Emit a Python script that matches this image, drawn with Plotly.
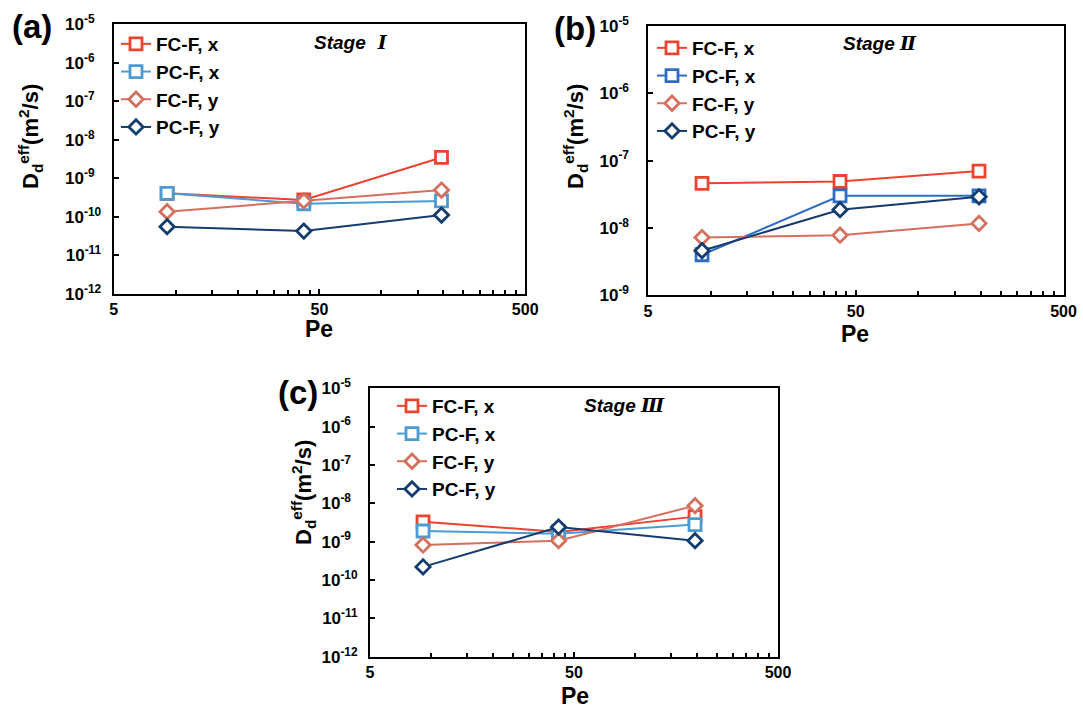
import math
import plotly.graph_objects as go

# Peclet numbers shared by all three stages
pe = [9.1, 42.0, 196.0]

# Stage I effective dispersion coefficients (m^2/s)
s1_fcf_x = [4.1e-10, 2.75e-10, 3.5e-9]
s1_pcf_x = [4.1e-10, 2.2e-10, 2.6e-10]
s1_fcf_y = [1.37e-10, 2.6e-10, 5.0e-10]
s1_pcf_y = [5.6e-11, 4.3e-11, 1.12e-10]

# Stage II
s2_fcf_x = [4.6e-8, 4.9e-8, 7.0e-8]
s2_pcf_x = [4.0e-9, 3.0e-8, 3.0e-8]
s2_fcf_y = [7.2e-9, 7.8e-9, 1.17e-8]
s2_pcf_y = [4.6e-9, 1.87e-8, 2.9e-8]

# Stage III
s3_fcf_x = [3.3e-9, 1.8e-9, 4.5e-9]
s3_pcf_x = [1.9e-9, 1.6e-9, 2.8e-9]
s3_fcf_y = [8.2e-10, 1.06e-9, 8.7e-9]
s3_pcf_y = [2.2e-10, 2.4e-9, 1.06e-9]

series_names = ["FC-F, x", "PC-F, x", "FC-F, y", "PC-F, y"]
x_tick_vals = [5, 50, 500]
x_tick_text = ["5", "50", "500"]
x_minor_vals = [10, 15, 20, 25, 30, 35, 40, 45, 100, 150, 200, 250, 300, 350, 400, 450]
y_exp_full = [-12, -11, -10, -9, -8, -7, -6, -5]
y_exp_short = [-9, -8, -7, -6, -5]

FONT = "Liberation Sans, Arial, sans-serif"
W, H = 1083, 711

RED = "#E8442F"
LIGHT_BLUE = "#4C9BD2"
MID_BLUE = "#2F6DC0"
SALMON = "#D4705D"
NAVY = "#143C6E"


def px_x(v):
    return v / W


def px_y(v):
    return 1 - v / H


def ytick_text(exps):
    out = []
    for e in exps:
        pad = "" if abs(e) >= 10 else "\u00a0\u00a0"
        out.append(f"<b>10<sup>{e}{pad}</sup></b>")
    return out


def stage_text(numeral):
    return ("<b><i>Stage\u00a0</i></b>"
            f"<span style='font-family:DejaVu Serif'><b><i>{numeral}</i></b></span>")


panels = [
    dict(ax="", data=[s1_fcf_x, s1_pcf_x, s1_fcf_y, s1_pcf_y],
         colors=[RED, LIGHT_BLUE, SALMON, NAVY], legend="legend",
         box=(113.6, 525.2, 24.3, 294.0), yexp=y_exp_full,
         label="(a)", label_xy=(32, 26), stage="\u00a0\u2160", stage_xy=(351, 42),
         ytitle_xy=(30, 137), xtitle_xy=(319, 329), legend_xy=(116, 25)),
    dict(ax="2", data=[s2_fcf_x, s2_pcf_x, s2_fcf_y, s2_pcf_y],
         colors=[RED, MID_BLUE, SALMON, NAVY], legend="legend2",
         box=(648.0, 1063.5, 26.0, 295.3), yexp=y_exp_short,
         label="(b)", label_xy=(575, 28), stage="\u2161", stage_xy=(880, 43),
         ytitle_xy=(575, 137), xtitle_xy=(855, 334), legend_xy=(652, 29)),
    dict(ax="3", data=[s3_fcf_x, s3_pcf_x, s3_fcf_y, s3_pcf_y],
         colors=[RED, LIGHT_BLUE, SALMON, NAVY], legend="legend3",
         box=(370.0, 778.0, 388.3, 656.7), yexp=y_exp_full,
         label="(c)", label_xy=(298, 392), stage="\u2162", stage_xy=(624, 405),
         ytitle_xy=(303, 493), xtitle_xy=(575, 696), legend_xy=(392, 387)),
]

symbols = ["square", "square", "diamond", "diamond"]
sizes = [12, 12, 11, 11]

fig = go.Figure()
annotations = []
layout = {}

for p in panels:
    xa = "x" + p["ax"]
    ya = "y" + p["ax"]
    for name, vals, col, sym, sz in zip(series_names, p["data"], p["colors"], symbols, sizes):
        fig.add_trace(go.Scatter(
            x=pe, y=vals, name=name, mode="lines+markers",
            xaxis=xa, yaxis=ya, legend=p["legend"],
            line=dict(color=col, width=2),
            marker=dict(symbol=sym, size=sz, color="white",
                        line=dict(color=col, width=2.8)),
        ))

    l, r, t, b = p["box"]
    axis_common = dict(
        showline=True, linecolor="black", linewidth=2, mirror=True,
        showgrid=False, zeroline=False, ticks="inside", tickcolor="black",
        tickwidth=1.5, ticklen=5, automargin=False,
    )
    layout["xaxis" + p["ax"]] = dict(
        axis_common, type="log", anchor=ya,
        domain=[px_x(l), px_x(r)],
        range=[math.log10(5), math.log10(500)],
        tickmode="array", tickvals=x_tick_vals,
        ticktext=[f"<b>{t_}</b>" for t_ in x_tick_text],
        tickfont=dict(family=FONT, size=16, color="black"),
        minor=dict(ticks="inside", ticklen=4, tickwidth=1.5, tickcolor="black",
                   tickvals=x_minor_vals, showgrid=False),
    )
    yexp = p["yexp"]
    layout["yaxis" + p["ax"]] = dict(
        axis_common, type="log", anchor=xa,
        domain=[px_y(b), px_y(t)],
        range=[yexp[0], yexp[-1]],
        tickmode="array", tickvals=[10.0 ** e for e in yexp],
        ticktext=ytick_text(yexp),
        tickfont=dict(family=FONT, size=17, color="black"),
        ticklabelstandoff=7,
    )
    lx, ly = p["legend_xy"]
    layout[p["legend"]] = dict(
        x=px_x(lx), y=px_y(ly), xanchor="left", yanchor="top",
        bgcolor="rgba(0,0,0,0)", borderwidth=0, tracegroupgap=0,
        font=dict(family=FONT, size=19, color="black", weight="bold"),
        itemwidth=30,
    )

    annotations.append(dict(
        text=f"<b>{p['label']}</b>", x=px_x(p["label_xy"][0]), y=px_y(p["label_xy"][1]),
        xref="paper", yref="paper", showarrow=False, xanchor="center", yanchor="middle",
        font=dict(family=FONT, size=33, color="black"),
    ))
    annotations.append(dict(
        text=stage_text(p["stage"]), x=px_x(p["stage_xy"][0]), y=px_y(p["stage_xy"][1]),
        xref="paper", yref="paper", showarrow=False, xanchor="center", yanchor="middle",
        font=dict(family=FONT, size=19, color="black"),
    ))
    annotations.append(dict(
        text="<b>D<sub>d</sub><sup>eff</sup>(m<sup>2</sup>/s)</b>",
        x=px_x(p["ytitle_xy"][0]), y=px_y(p["ytitle_xy"][1]), textangle=-90,
        xref="paper", yref="paper", showarrow=False, xanchor="center", yanchor="middle",
        font=dict(family=FONT, size=22, color="black"),
    ))
    annotations.append(dict(
        text="<b>Pe</b>", x=px_x(p["xtitle_xy"][0]), y=px_y(p["xtitle_xy"][1]),
        xref="paper", yref="paper", showarrow=False, xanchor="center", yanchor="middle",
        font=dict(family=FONT, size=23, color="black"),
    ))

fig.update_layout(
    width=W, height=H,
    margin=dict(l=0, r=0, t=0, b=0, pad=0, autoexpand=False),
    paper_bgcolor="white", plot_bgcolor="white",
    showlegend=True,
    annotations=annotations,
    **layout,
)

fig.write_html("out.html")
